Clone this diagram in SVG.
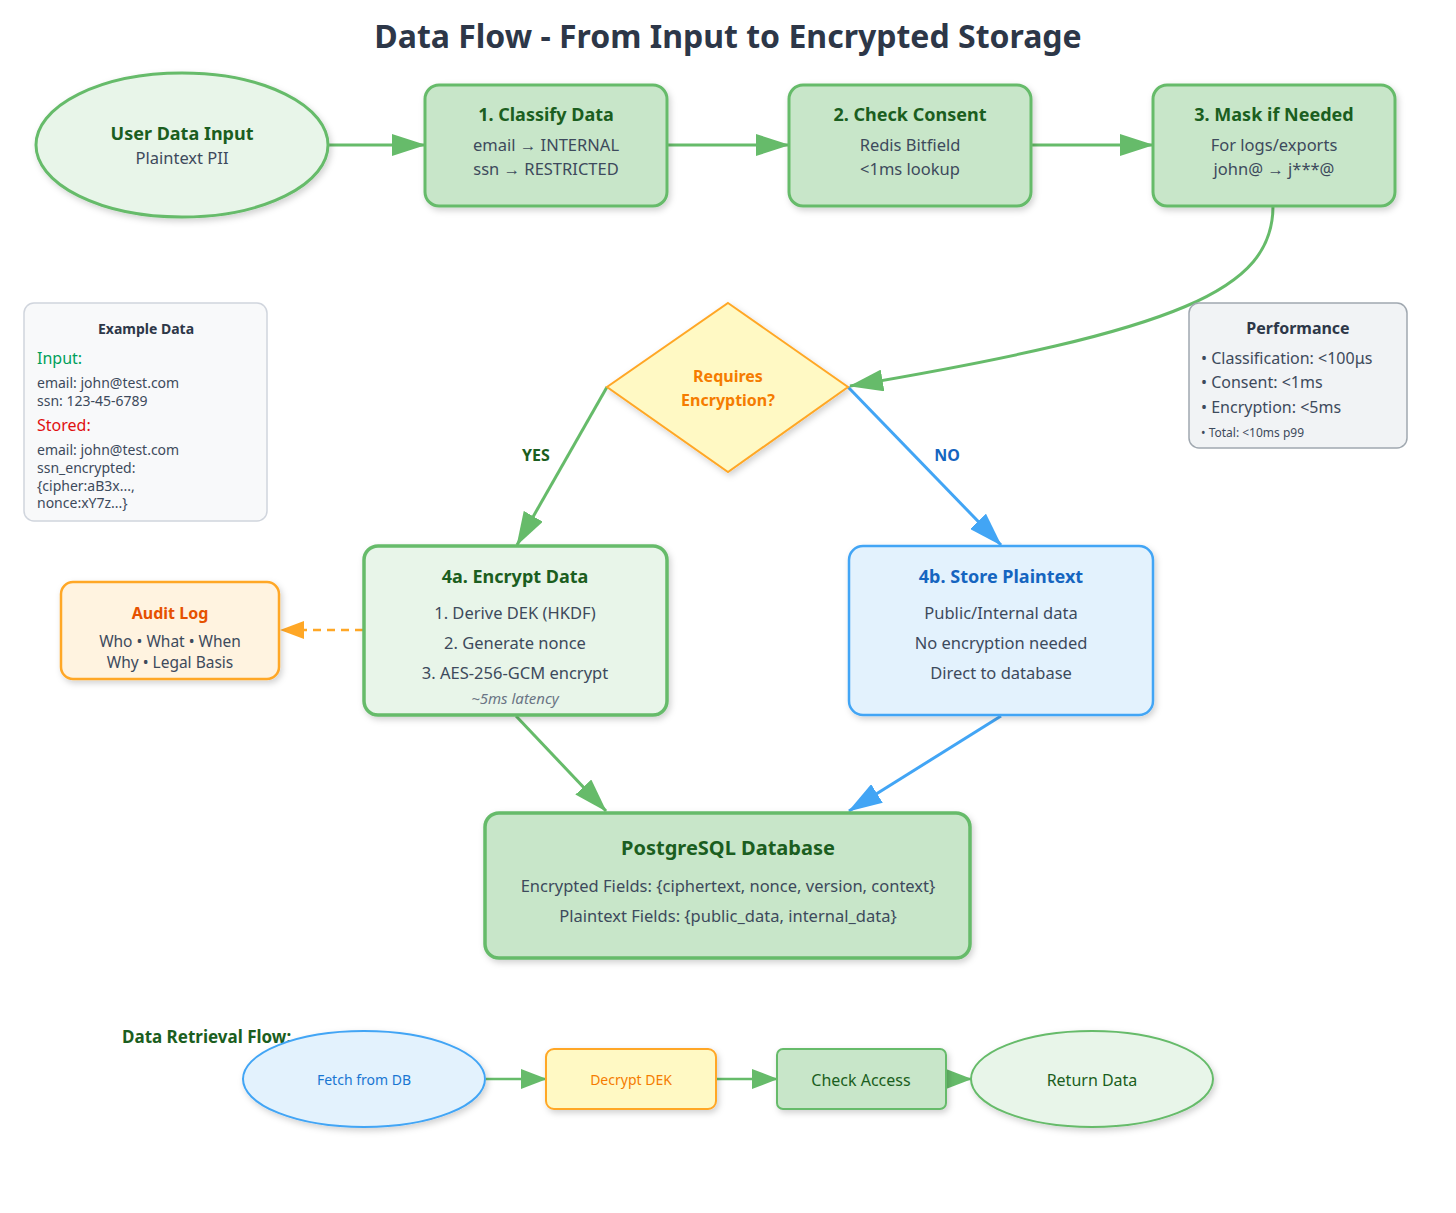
<svg xmlns="http://www.w3.org/2000/svg" width="1456" height="1213" viewBox="0 0 1456 1213">
<defs>
<filter id="sh" x="-10%" y="-10%" width="125%" height="130%"><feDropShadow dx="2" dy="3" stdDeviation="3" flood-color="#000" flood-opacity="0.18"/></filter>
<marker id="ag" markerUnits="userSpaceOnUse" markerWidth="34" markerHeight="22" refX="33" refY="11" orient="auto"><path d="M0,0 L34,11 L0,22 Z" fill="#66bb6a"/></marker>
<marker id="ab" markerUnits="userSpaceOnUse" markerWidth="34" markerHeight="22" refX="33" refY="11" orient="auto"><path d="M0,0 L34,11 L0,22 Z" fill="#42a5f5"/></marker>
<marker id="ao" markerUnits="userSpaceOnUse" markerWidth="24" markerHeight="18" refX="23" refY="9" orient="auto"><path d="M0,0 L24,9 L0,18 Z" fill="#ffa726"/></marker>
<marker id="as" markerUnits="userSpaceOnUse" markerWidth="26" markerHeight="20" refX="25" refY="10" orient="auto"><path d="M0,0 L26,10 L0,20 Z" fill="#66bb6a"/></marker>
</defs>
<style>
text{font-family:"Noto Sans","Open Sans","Liberation Sans",sans-serif;text-anchor:middle}
.t{font-weight:bold;font-size:18px;fill:#1b5e20}
.b{font-size:16.5px;fill:#3d4a5c}
.g{fill:#c8e6c9;stroke:#66bb6a;stroke-width:3}
.lg{fill:#e8f5e9;stroke:#66bb6a;stroke-width:3}
.l{text-anchor:start}
</style>
<rect width="1456" height="1213" fill="#fff"/>
<text x="728" y="48" font-size="32" font-weight="bold" fill="#2d3748">Data Flow - From Input to Encrypted Storage</text>

<g id="connectors" fill="none">
<line x1="328" y1="145" x2="425" y2="145" stroke="#66bb6a" stroke-width="3" marker-end="url(#ag)"/>
<line x1="667" y1="145" x2="789" y2="145" stroke="#66bb6a" stroke-width="3" marker-end="url(#ag)"/>
<line x1="1031" y1="145" x2="1153" y2="145" stroke="#66bb6a" stroke-width="3" marker-end="url(#ag)"/>
<path d="M1273,206 C1273,290 1180,330 850,386" stroke="#66bb6a" stroke-width="3" marker-end="url(#ag)"/>
<line x1="607" y1="387" x2="517" y2="545" stroke="#66bb6a" stroke-width="3" marker-end="url(#ag)"/>
<line x1="848" y1="387" x2="1001" y2="545" stroke="#42a5f5" stroke-width="3" marker-end="url(#ab)"/>
<line x1="363" y1="630" x2="281" y2="630" stroke="#ffa726" stroke-width="2.5" stroke-dasharray="8,6" marker-end="url(#ao)"/>
<line x1="516" y1="716" x2="606" y2="811" stroke="#66bb6a" stroke-width="3" marker-end="url(#ag)"/>
<line x1="1001" y1="716" x2="849" y2="811" stroke="#42a5f5" stroke-width="3" marker-end="url(#ab)"/>
<line x1="486" y1="1079" x2="546" y2="1079" stroke="#66bb6a" stroke-width="2.5" marker-end="url(#as)"/>
<line x1="716" y1="1079" x2="777" y2="1079" stroke="#66bb6a" stroke-width="2.5" marker-end="url(#as)"/>
<line x1="946" y1="1079" x2="971" y2="1079" stroke="#66bb6a" stroke-width="2.5" marker-end="url(#as)"/>
</g>

<g id="input">
<ellipse cx="182" cy="145" rx="146" ry="72" class="lg" filter="url(#sh)"/>
<text x="182" y="140" class="t">User Data Input</text>
<text x="182" y="164" class="b">Plaintext PII</text>
</g>
<g id="classify">
<rect x="425" y="85" width="242" height="121" rx="14" class="g" filter="url(#sh)"/>
<text x="546" y="121" class="t">1. Classify Data</text>
<text x="546" y="151" class="b">email → INTERNAL</text>
<text x="546" y="175" class="b">ssn → RESTRICTED</text>
</g>
<g id="consent">
<rect x="789" y="85" width="242" height="121" rx="14" class="g" filter="url(#sh)"/>
<text x="910" y="121" class="t">2. Check Consent</text>
<text x="910" y="151" class="b">Redis Bitfield</text>
<text x="910" y="175" class="b">&lt;1ms lookup</text>
</g>
<g id="mask">
<rect x="1153" y="85" width="242" height="121" rx="14" class="g" filter="url(#sh)"/>
<text x="1274" y="121" class="t">3. Mask if Needed</text>
<text x="1274" y="151" class="b">For logs/exports</text>
<text x="1274" y="175" class="b">john@ → j***@</text>
</g>

<g id="example">
<rect x="24" y="303" width="243" height="218" rx="10" fill="#f8f9fa" stroke="#d0d5dd" stroke-width="1.5"/>
<text x="146" y="334" font-size="14" font-weight="bold" fill="#2d3748">Example Data</text>
<text x="37" y="364" class="l" font-size="16" fill="#00a05a">Input:</text>
<text x="37" y="388" class="l" font-size="14" fill="#3d4a5c">email: john@test.com</text>
<text x="37" y="406" class="l" font-size="14" fill="#3d4a5c">ssn: 123-45-6789</text>
<text x="37" y="431" class="l" font-size="16" fill="#e01010">Stored:</text>
<text x="37" y="455" class="l" font-size="14" fill="#3d4a5c">email: john@test.com</text>
<text x="37" y="473" class="l" font-size="14" fill="#3d4a5c">ssn_encrypted:</text>
<text x="37" y="491" class="l" font-size="14" fill="#3d4a5c">{cipher:aB3x...,</text>
<text x="37" y="508" class="l" font-size="14" fill="#3d4a5c">nonce:xY7z...}</text>
</g>

<g id="performance">
<rect x="1189" y="303" width="218" height="145" rx="10" fill="#f1f3f5" stroke="#a0a8b0" stroke-width="1.5"/>
<text x="1298" y="334" font-size="16" font-weight="bold" fill="#2d3748">Performance</text>
<text x="1201" y="364" class="l" font-size="16" fill="#3d4a5c">• Classification: &lt;100μs</text>
<text x="1201" y="388" class="l" font-size="16" fill="#3d4a5c">• Consent: &lt;1ms</text>
<text x="1201" y="413" class="l" font-size="16" fill="#3d4a5c">• Encryption: &lt;5ms</text>
<text x="1201" y="437" class="l" font-size="12" fill="#3d4a5c">• Total: &lt;10ms p99</text>
</g>

<g id="decision">
<polygon points="728,303 848,387 728,472 607,387" fill="#fff9c4" stroke="#ffa726" stroke-width="2" filter="url(#sh)"/>
<text x="728" y="382" font-size="16" font-weight="bold" fill="#f57c00">Requires</text>
<text x="728" y="406" font-size="16" font-weight="bold" fill="#f57c00">Encryption?</text>
</g>
<text x="536" y="461" font-size="16" font-weight="bold" fill="#1b5e20">YES</text>
<text x="947" y="461" font-size="16" font-weight="bold" fill="#1565c0">NO</text>

<g id="encrypt">
<rect x="364" y="546" width="303" height="169" rx="14" fill="#e8f5e9" stroke="#66bb6a" stroke-width="3.5" filter="url(#sh)"/>
<text x="515" y="583" class="t">4a. Encrypt Data</text>
<text x="515" y="619" class="b">1. Derive DEK (HKDF)</text>
<text x="515" y="649" class="b">2. Generate nonce</text>
<text x="515" y="679" class="b">3. AES-256-GCM encrypt</text>
<text x="515" y="704" font-size="15" font-style="italic" fill="#6b7585">~5ms latency</text>
</g>
<g id="plaintext">
<rect x="849" y="546" width="304" height="169" rx="14" fill="#e3f2fd" stroke="#42a5f5" stroke-width="2.5" filter="url(#sh)"/>
<text x="1001" y="583" font-size="18" font-weight="bold" fill="#1565c0">4b. Store Plaintext</text>
<text x="1001" y="619" class="b">Public/Internal data</text>
<text x="1001" y="649" class="b">No encryption needed</text>
<text x="1001" y="679" class="b">Direct to database</text>
</g>
<g id="audit">
<rect x="61" y="582" width="218" height="97" rx="12" fill="#fff3e0" stroke="#ffa726" stroke-width="2.5" filter="url(#sh)"/>
<text x="170" y="619" font-size="16" font-weight="bold" fill="#e65100">Audit Log</text>
<text x="170" y="647" font-size="15.5" fill="#3d4a5c">Who • What • When</text>
<text x="170" y="668" font-size="15.5" fill="#3d4a5c">Why • Legal Basis</text>
</g>
<g id="database">
<rect x="485" y="813" width="485" height="145" rx="14" fill="#c8e6c9" stroke="#66bb6a" stroke-width="3.5" filter="url(#sh)"/>
<text x="728" y="855" font-size="20" font-weight="bold" fill="#1b5e20">PostgreSQL Database</text>
<text x="728" y="892" class="b" font-size="16">Encrypted Fields: {ciphertext, nonce, version, context}</text>
<text x="728" y="922" class="b" font-size="16">Plaintext Fields: {public_data, internal_data}</text>
</g>

<text x="122" y="1043" class="l" font-size="17" font-weight="bold" fill="#1b5e20">Data Retrieval Flow:</text>
<g id="fetch">
<ellipse cx="364" cy="1079" rx="121" ry="48" fill="#e3f2fd" stroke="#42a5f5" stroke-width="2" filter="url(#sh)"/>
<text x="364" y="1085" font-size="14" fill="#1976d2">Fetch from DB</text>
</g>
<g id="decrypt">
<rect x="546" y="1049" width="170" height="60" rx="8" fill="#fff9c4" stroke="#ffa726" stroke-width="2" filter="url(#sh)"/>
<text x="631" y="1085" font-size="14" fill="#f57c00">Decrypt DEK</text>
</g>
<g id="access">
<rect x="777" y="1049" width="169" height="60" rx="6" fill="#c8e6c9" stroke="#66bb6a" stroke-width="2" filter="url(#sh)"/>
<text x="861" y="1086" font-size="16" fill="#1b5e20">Check Access</text>
</g>
<g id="return">
<ellipse cx="1092" cy="1079" rx="121" ry="48" fill="#e8f5e9" stroke="#66bb6a" stroke-width="2" filter="url(#sh)"/>
<text x="1092" y="1086" font-size="16" fill="#1b5e20">Return Data</text>
</g>
</svg>
